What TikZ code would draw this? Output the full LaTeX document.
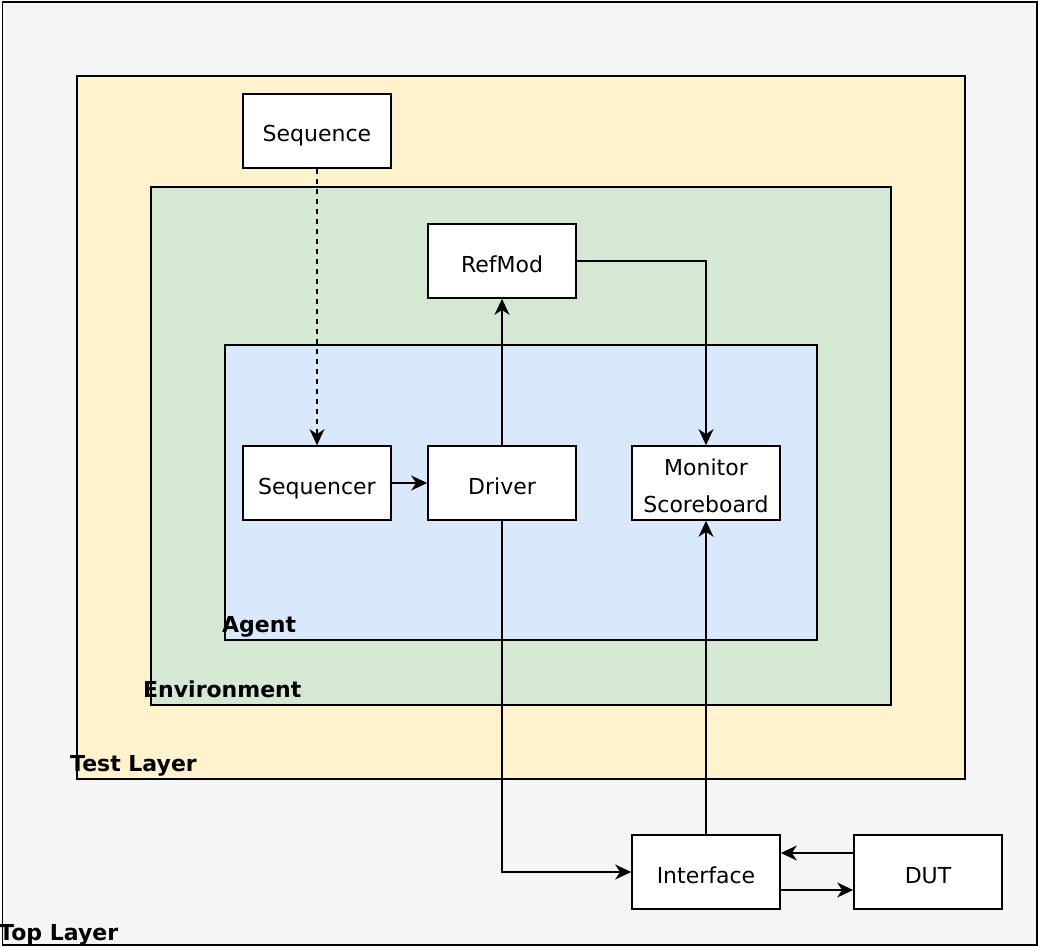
\documentclass[tikz,border=0pt]{standalone}
\usepackage{fontspec}
\setmainfont{DejaVu Sans}
\usetikzlibrary{arrows.meta}
\begin{document}
\begin{tikzpicture}[x=1pt,y=-1pt,
  txt/.style={font=\fontsize{22}{36.7}\selectfont},
  layer/.style={draw=black, line width=1.7pt, inner sep=0pt},
  blk/.style={draw=black, fill=white, line width=1.7pt, minimum width=148pt,
    minimum height=74pt, inner sep=0pt, align=center, txt,
    text height=22pt, text depth=0pt},
  lbl/.style={anchor=base west, inner sep=0pt,
    font=\fontsize{22}{26}\selectfont\bfseries},
  conn/.style={draw=black, line width=1.7pt,
    -{Stealth[length=16pt,width=15pt,inset=5pt]}}]
\useasboundingbox (0,0) rectangle (1039,947);

% nested layers
\node[layer, fill=black!4, minimum width=1034.5pt, minimum height=942.5pt] (top) at (519.75,473.5) {};
\node[layer, fill={rgb,255:red,255;green,242;blue,204},
  minimum width=888pt, minimum height=703pt] (test) at (521,427.5) {};
\node[layer, fill={rgb,255:red,213;green,232;blue,212},
  minimum width=740pt, minimum height=518pt] (env) at (521,446) {};
\node[layer, fill={rgb,255:red,218;green,232;blue,252},
  minimum width=592pt, minimum height=295pt] (agent) at (521,492.5) {};

% layer captions
\node[lbl] (toplbl) at (-1,940) {Top Layer};
\node[lbl] (testlbl) at (70,771) {Test Layer};
\node[lbl] (envlbl) at (143,697) {Environment};
\node[lbl] (agentlbl) at (222,632) {Agent};

% components
\node[blk] (seq) at (317,131) {Sequence};
\node[blk] (ref) at (502,261) {RefMod};
\node[blk] (sqr) at (317,483) {Sequencer};
\node[blk] (drv) at (502,483) {Driver};
\node[blk, text height=59pt] (mon) at (706,483) {Monitor\\Scoreboard};
\node[blk] (intf) at (706,872) {Interface};
\node[blk] (dut) at (928,872) {DUT};

% connections
\draw[conn, dash pattern=on 5pt off 5pt] (seq.south) -- (sqr.north);
\draw[conn] (sqr.east) -- (drv.west);
\draw[conn] (drv.north) -- (ref.south);
\draw[conn] (ref.east) -| (mon.north);
\draw[conn] (drv.south) |- (intf.west);
\draw[conn] (intf.north) -- (mon.south);
\coordinate (hi) at (0,853);
\coordinate (lo) at (0,890);
\draw[conn] (dut.west |- hi) -- (intf.east |- hi);
\draw[conn] (intf.east |- lo) -- (dut.west |- lo);
\end{tikzpicture}
\end{document}
